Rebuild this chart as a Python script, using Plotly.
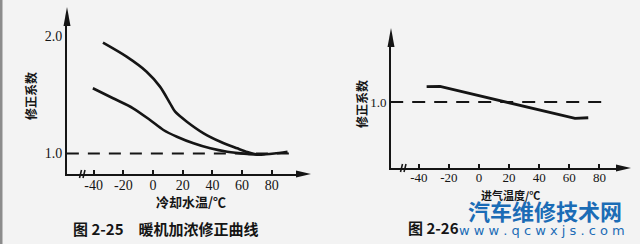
import plotly.graph_objects as go

# ---------------- data ----------------
# Fig 2-25: warm-up enrichment correction vs coolant temperature
coolant_upper_x = [-33.7, -17.8, -4.3, 4.7, 11.5, 14.9, 22.8, 34.1, 45.4, 56.7, 63.5, 70.3, 76.0, 81.6, 90.6]
coolant_upper_y = [1.943, 1.824, 1.696, 1.569, 1.427, 1.356, 1.271, 1.172, 1.100, 1.044, 1.012, 0.990, 0.993, 1.000, 1.015]
coolant_lower_x = [-40.5, -26.9, -13.4, -2.0, 7.0, 16.1, 27.3, 38.6, 50.0, 63.5, 70.3]
coolant_lower_y = [1.555, 1.470, 1.385, 1.285, 1.200, 1.143, 1.087, 1.044, 1.015, 0.996, 0.990]
ref_left_x = [-58, 92]
ref_left_y = [1.0, 1.0]

# Fig 2-26: intake air temperature correction
intake_x = [-34.8, -25.9, 63.8, 72.6]
intake_y = [1.130, 1.132, 0.861, 0.866]
ref_right_x = [-59, 87]
ref_right_y = [1.0, 1.0]

x_ticks = [-40, -20, 0, 20, 40, 60, 80]
x_ticktext = ["-40", "-20", "0", "20", "40", "60", "80"]
left_yticks = [1.0, 2.0]
left_yticktext = ["1.0", "2.0"]
right_yticks = [1.0]
right_yticktext = ["1.0"]

# ---------------- geometry helpers ----------------
W, H = 640, 244
def PX(x): return x / W
def PY(y): return 1 - y / H

L_x0, L_x1 = 67, 300
L_zero, L_step = 153.0, 29.7
L_yb, L_yt = 174, 22
L_one, L_unit = 153.5, 117.5
def Lxv(p): return (p - L_zero) / L_step * 20
def Lyv(p): return 1 + (L_one - p) / L_unit

R_x0, R_x1 = 391, 620
R_zero, R_step = 479.0, 30.1
R_yb, R_yt = 168, 44
R_one, R_unit = 102.0, 117.5
def Rxv(p): return (p - R_zero) / R_step * 20
def Ryv(p): return 1 + (R_one - p) / R_unit

INK = "#151515"
BG = "#f3f3f3"
BLUE = "#1b6cb6"
serif = "Liberation Serif"
cjk = "Noto Sans CJK SC"

fig = go.Figure()
line_style = dict(color=INK, width=2.6, shape="spline", smoothing=0.8)
fig.add_trace(go.Scatter(x=coolant_upper_x, y=coolant_upper_y, mode="lines", line=line_style,
                         xaxis="x", yaxis="y", showlegend=False, hoverinfo="skip"))
fig.add_trace(go.Scatter(x=coolant_lower_x, y=coolant_lower_y, mode="lines", line=line_style,
                         xaxis="x", yaxis="y", showlegend=False, hoverinfo="skip"))
fig.add_trace(go.Scatter(x=ref_left_x, y=ref_left_y, mode="lines",
                         line=dict(color=INK, width=2, dash="12px,9px"),
                         xaxis="x", yaxis="y", showlegend=False, hoverinfo="skip"))
fig.add_trace(go.Scatter(x=intake_x, y=intake_y, mode="lines", line=dict(color=INK, width=2.8),
                         xaxis="x2", yaxis="y2", showlegend=False, hoverinfo="skip"))
fig.add_trace(go.Scatter(x=ref_right_x, y=ref_right_y, mode="lines",
                         line=dict(color=INK, width=1.8, dash="13px,9px"),
                         xaxis="x2", yaxis="y2", showlegend=False, hoverinfo="skip"))

axis_common = dict(showgrid=False, zeroline=False, showline=True, linecolor=INK, linewidth=2)

fig.update_layout(
    width=W, height=H, margin=dict(l=0, r=0, t=0, b=0),
    paper_bgcolor=BG, plot_bgcolor=BG,
    xaxis=dict(domain=[PX(L_x0), PX(L_x1)], range=[Lxv(L_x0), Lxv(L_x1)], anchor="y",
               tickvals=x_ticks, ticktext=x_ticktext, ticks="inside", ticklen=4, tickwidth=1.5,
               tickcolor=INK, ticklabelstandoff=-3,
               tickfont=dict(family=serif, size=14, color=INK), **axis_common),
    yaxis=dict(domain=[PY(L_yb), PY(L_yt)], range=[Lyv(L_yb), Lyv(L_yt)], anchor="x",
               tickvals=left_yticks, ticktext=left_yticktext, ticks="",
               tickfont=dict(family=serif, size=14, color=INK), **axis_common),
    xaxis2=dict(domain=[PX(R_x0), PX(R_x1)], range=[Rxv(R_x0), Rxv(R_x1)], anchor="y2",
                tickvals=x_ticks, ticktext=x_ticktext, ticks="inside", ticklen=4, tickwidth=1.5,
                tickcolor=INK, ticklabelstandoff=-4,
                tickfont=dict(family=serif, size=13, color=INK), **axis_common),
    yaxis2=dict(domain=[PY(R_yb), PY(R_yt)], range=[Ryv(R_yb), Ryv(R_yt)], anchor="x2",
                tickvals=right_yticks, ticktext=right_yticktext, ticks="",
                tickfont=dict(family=serif, size=13, color=INK), **axis_common),
)

shapes = []
def tri(p1, p2, p3):
    path = "M {:.5f},{:.5f} L {:.5f},{:.5f} L {:.5f},{:.5f} Z".format(
        PX(p1[0]), PY(p1[1]), PX(p2[0]), PY(p2[1]), PX(p3[0]), PY(p3[1]))
    return dict(type="path", path=path, xref="paper", yref="paper", fillcolor=INK, line=dict(width=0))
def seg(a, b, w=1.6):
    return dict(type="line", x0=PX(a[0]), y0=PY(a[1]), x1=PX(b[0]), y1=PY(b[1]),
                xref="paper", yref="paper", line=dict(color=INK, width=w))

# arrow heads at the ends of the axes
shapes.append(tri((L_x0, 7), (L_x0 - 3.5, 26), (L_x0 + 3.5, 26)))
shapes.append(tri((311, L_yb), (296, L_yb - 3.5), (296, L_yb + 3.5)))
shapes.append(tri((R_x0, 28), (R_x0 - 3.5, 47), (R_x0 + 3.5, 47)))
shapes.append(tri((631, R_yb), (616, R_yb - 3.5), (616, R_yb + 3.5)))
# axis break marks
for bx, by in [(81, L_yb), (402, R_yb)]:
    shapes.append(seg((bx - 1.5, by + 4), (bx + 0.5, by - 4)))
    shapes.append(seg((bx + 2.0, by + 4), (bx + 4.0, by - 4)))
# dark page edge on the left
shapes.append(dict(type="rect", x0=0, x1=PX(2.5), y0=0, y1=1, xref="paper", yref="paper",
                   fillcolor="#8c8c8c", line=dict(width=0)))
fig.update_layout(shapes=shapes)

ann = []
def text(x, y, s, size, family=cjk, color=INK, angle=0, bold=True):
    ann.append(dict(x=PX(x), y=PY(y), xref="paper", yref="paper", text=("<b>%s</b>" % s) if bold else s,
                    showarrow=False, textangle=angle, xanchor="center", yanchor="middle",
                    font=dict(family=family, size=size, color=color)))

text(30, 96, "修正系数", 12, angle=-90)
text(191, 201, "冷却水温/℃", 13)
text(166, 228, "图 2-25　暖机加浓修正曲线", 15)
text(361, 104, "修正系数", 12, angle=-90)
text(510, 195, "进气温度/℃", 11)
text(433, 227, "图 2-26", 15)
text(545, 210, "汽车维修技术网", 22, color=BLUE)
text(542, 230, "w w w . q c w x j s . c o m", 13, family="DejaVu Sans", color=BLUE, bold=False)
fig.update_layout(annotations=ann)

fig.write_html("out.html")
